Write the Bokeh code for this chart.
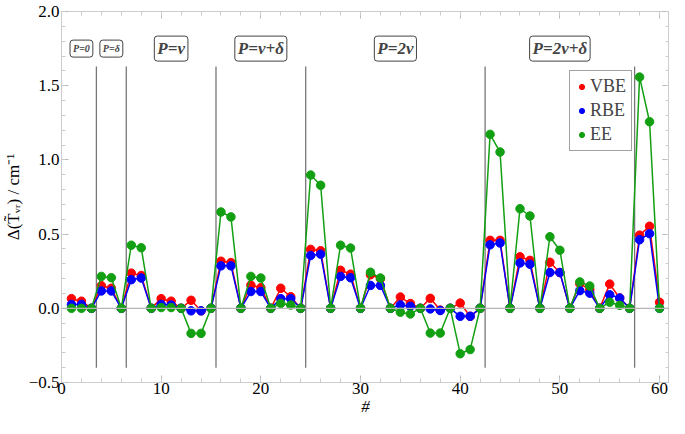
import numpy as np
from bokeh.plotting import figure
from bokeh.models import (ColumnDataSource, Range1d, LinearAxis, Span, Label,
                          Legend, LegendItem, FixedTicker)
from bokeh.embed import file_html
from bokeh.resources import INLINE

# ---------------- data ----------------
idx = list(range(1, 61))
vbe = [0.065, 0.048, 0, 0.152, 0.135, 0, 0.237, 0.221, 0, 0.065, 0.048, 0,
       0.054, -0.017, 0, 0.317, 0.308, 0, 0.156, 0.139, 0, 0.135, 0.078, 0,
       0.397, 0.388, 0, 0.256, 0.230, 0, 0.226, 0.200, 0, 0.076, 0.032, 0,
       0.067, -0.012, 0, 0.035, -0.054, 0, 0.458, 0.458, 0, 0.347, 0.323, 0,
       0.310, 0.241, 0, 0.167, 0.126, 0, 0.163, 0.069, 0, 0.493, 0.553, 0.041]
rbe = [0.026, 0.026, 0, 0.117, 0.117, 0, 0.193, 0.204, 0, 0.026, 0.022, 0,
       -0.017, -0.017, 0, 0.286, 0.286, 0, 0.113, 0.113, 0, 0.065, 0.065, 0,
       0.356, 0.365, 0, 0.215, 0.206, 0, 0.154, 0.154, 0, 0.023, 0.014, 0,
       -0.004, -0.015, 0, -0.054, -0.054, 0, 0.428, 0.440, 0, 0.306, 0.297, 0,
       0.241, 0.241, 0, 0.119, 0.102, 0, 0.091, 0.069, 0, 0.462, 0.503, 0]
ee = [0, 0, 0, 0.215, 0.206, 0, 0.425, 0.408, 0, 0.005, 0.005, 0,
      -0.169, -0.169, 0, 0.649, 0.616, 0, 0.215, 0.204, 0, 0.033, 0.022, 0,
      0.898, 0.829, 0, 0.425, 0.406, 0, 0.243, 0.204, 0, -0.026, -0.038, 0,
      -0.167, -0.167, 0, -0.306, -0.278, 0, 1.172, 1.053, 0, 0.671, 0.622, 0,
      0.482, 0.391, 0, 0.178, 0.150, 0, 0.041, 0.020, 0, 1.558, 1.257, 0]

series_names = ["VBE", "RBE", "EE"]
series_colors = ["#ff0000", "#0000ff", "#12a012"]

sep_x = [3.5, 6.5, 15.5, 24.5, 42.5, 57.5]
sep_y0 = -0.4
sep_y1 = 1.63

region_labels = ["P=0", "P=δ", "P=ν", "P=ν+δ", "P=2ν", "P=2ν+δ"]
region_x = [2, 5, 11, 20, 33.5, 50]
region_small = [True, True, False, False, False, False]
region_y = 1.75

x_ticks = [0, 10, 20, 30, 40, 50, 60]
x_minor = [v for v in range(0, 62, 2)]
y_ticks = [-0.5, 0.0, 0.5, 1.0, 1.5, 2.0]
y_tick_labels = ["−0.5", "0.0", "0.5", "1.0", "1.5", "2.0"]
y_minor = [round(v, 1) for v in np.arange(-0.5, 2.01, 0.1)]

SERIF = "Liberation Serif"

# ---------------- figure ----------------
p = figure(width=669, height=418, x_range=Range1d(0, 61), y_range=Range1d(-0.5, 2.0),
           output_backend="svg", toolbar_location=None,
           min_border_left=10, min_border_right=0, min_border_top=11, min_border_bottom=2,
           x_axis_label="#", y_axis_label="Δ(T̃ᵥᵣ) / cm⁻¹")
p.grid.visible = False
p.outline_line_color = "#cccccc"
p.background_fill_color = "white"

xt = FixedTicker(ticks=x_ticks, minor_ticks=x_minor)
yt = FixedTicker(ticks=y_ticks, minor_ticks=y_minor)

def style_axis(ax, ticker, show_labels=True):
    ax.ticker = ticker
    ax.axis_line_color = "#cccccc"
    ax.major_tick_line_color = "#b8b8b8"
    ax.minor_tick_line_color = "#cccccc"
    ax.major_tick_in = 7
    ax.major_tick_out = 0
    ax.minor_tick_in = 4
    ax.minor_tick_out = 0
    ax.major_label_text_font = SERIF
    ax.major_label_text_font_size = "17px" if show_labels else "0px"
    ax.major_label_text_color = "black"
    ax.major_label_standoff = 2 if show_labels else 0
    ax.axis_label_text_font = SERIF
    ax.axis_label_text_font_size = "17px"
    ax.axis_label_text_color = "black"
    ax.axis_label_standoff = 3

style_axis(p.xaxis[0], xt)
style_axis(p.yaxis[0], yt)
p.xaxis[0].axis_label_text_font_style = "italic"
p.yaxis[0].axis_label_text_font_style = "normal"
p.yaxis[0].major_label_overrides = {t: l for t, l in zip(y_ticks, y_tick_labels)}
p.xaxis[0].axis_label_standoff = 0
p.xaxis[0].major_label_standoff = 0

ax_top = LinearAxis()
style_axis(ax_top, FixedTicker(ticks=x_ticks, minor_ticks=x_minor), show_labels=False)
ax_top.major_label_text_color = None
p.add_layout(ax_top, "above")
ax_right = LinearAxis()
style_axis(ax_right, FixedTicker(ticks=y_ticks, minor_ticks=y_minor), show_labels=False)
ax_right.major_label_text_color = None
p.add_layout(ax_right, "right")

# zero line
p.add_layout(Span(location=0, dimension="width", line_color="#b5b5b5", line_width=1.2))

# separators
p.segment(x0=sep_x, y0=sep_y0, x1=sep_x, y1=sep_y1, line_color="#777777", line_width=1.3)

# series
legend_items = []
for name, col, ys in zip(series_names, series_colors, [vbe, rbe, ee]):
    src = ColumnDataSource(dict(x=idx, y=ys))
    p.line("x", "y", source=src, line_color=col, line_width=1.5)
    r = p.scatter("x", "y", source=src, size=8.5, fill_color=col, line_color=col)
    legend_items.append(LegendItem(label=name, renderers=[r]))

# region labels
for txt, xv, small in zip(region_labels, region_x, region_small):
    p.add_layout(Label(x=xv, y=region_y, text=txt, text_font=SERIF,
                       text_font_style="bold italic",
                       text_font_size="10px" if small else "17px",
                       text_align="center", text_baseline="middle",
                       border_line_color="#444444", border_line_width=1,
                       background_fill_color="white",
                       padding=3, border_radius=3))

legend = Legend(items=legend_items, location=(508, 231),
                label_text_font=SERIF, label_text_font_size="18px",
                glyph_width=13, glyph_height=13, label_height=20, label_standoff=2,
                spacing=3, padding=5, margin=0,
                border_line_color="#444444", border_line_width=1,
                background_fill_color="white", background_fill_alpha=1)
p.add_layout(legend)

open("out.html", "w").write(file_html(p, INLINE))
